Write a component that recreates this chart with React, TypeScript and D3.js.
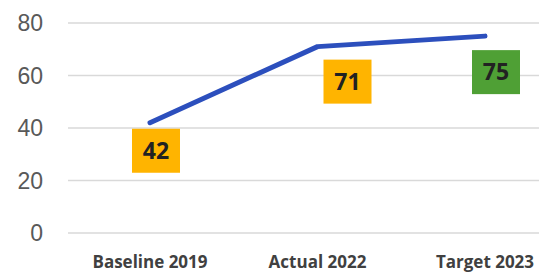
import { useEffect, useRef } from "react";
import * as d3 from "d3";

const categories = ["Baseline 2019", "Actual 2022", "Target 2023"];
const values = [42, 71, 75];
const labelColors = ["#FFB400", "#FFB400", "#4FA035"];
const yTicks = [0, 20, 40, 60, 80];

const width = 539,
  height = 274;

// label box offsets from the point (px)
const labelOffsets = [
  [6, 28],
  [30, 35],
  [11, 36],
];

function App() {
  const svgRef = useRef(null);

  useEffect(() => {
    const svg = d3.select(svgRef.current);
    svg.selectAll("*").remove();

    const x = d3.scalePoint().domain(categories).range([150, 485]);
    const y = d3.scaleLinear().domain([0, 80]).range([233, 23]);

    svg
      .append("g")
      .selectAll("line")
      .data(yTicks)
      .enter()
      .append("line")
      .attr("x1", 68)
      .attr("x2", width)
      .attr("y1", (d) => y(d))
      .attr("y2", (d) => y(d))
      .attr("stroke", "#d9d9d9")
      .attr("stroke-width", 1.5);

    svg
      .append("g")
      .selectAll("text")
      .data(yTicks)
      .enter()
      .append("text")
      .attr("x", 43)
      .attr("y", (d) => y(d))
      .attr("dy", "0.35em")
      .attr("text-anchor", "end")
      .style("font-family", "'Liberation Sans', Arial, sans-serif")
      .style("font-size", "23px")
      .style("fill", "#595959")
      .text((d) => d);

    svg
      .append("g")
      .selectAll("text")
      .data(categories)
      .enter()
      .append("text")
      .attr("x", (d) => x(d) as number)
      .attr("y", 268)
      .attr("text-anchor", "middle")
      .style("font-family", "'Open Sans', sans-serif")
      .style("font-weight", "bold")
      .style("font-size", "17px")
      .style("fill", "#404040")
      .text((d) => d);

    const line = d3
      .line<number>()
      .x((d, i) => x(categories[i]) as number)
      .y((d) => y(d));

    svg
      .append("path")
      .datum(values)
      .attr("d", line)
      .attr("fill", "none")
      .attr("stroke", "#2C4FBD")
      .attr("stroke-width", 5)
      .attr("stroke-linecap", "round")
      .attr("stroke-linejoin", "round");

    const labels = svg
      .append("g")
      .selectAll("g")
      .data(values)
      .enter()
      .append("g")
      .attr(
        "transform",
        (d, i) =>
          "translate(" +
          ((x(categories[i]) as number) + labelOffsets[i][0]) +
          "," +
          (y(d) + labelOffsets[i][1]) +
          ")"
      );

    labels
      .append("rect")
      .attr("x", -24)
      .attr("y", -22)
      .attr("width", 48)
      .attr("height", 44)
      .attr("fill", (d, i) => labelColors[i]);

    labels
      .append("text")
      .attr("text-anchor", "middle")
      .attr("dy", "0.36em")
      .style("font-family", "'Open Sans', sans-serif")
      .style("font-weight", "bold")
      .style("font-size", "23px")
      .style("fill", "#222")
      .text((d) => d);
  }, []);

  return (
    <svg
      ref={svgRef}
      width={width}
      height={height}
      style={{ position: "absolute", left: 0, top: 0, background: "#fff" }}
    ></svg>
  );
}

export default App;
